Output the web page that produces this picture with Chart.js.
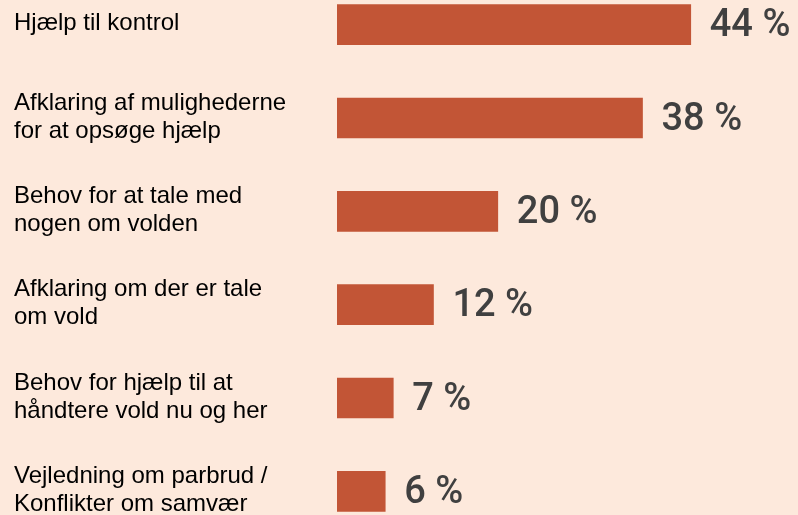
<!DOCTYPE html>
<html>
<head>
<meta charset="utf-8">
<script src="https://cdn.jsdelivr.net/npm/chart.js@4/dist/chart.umd.min.js"></script>
<style>
  html, body { margin: 0; padding: 0; background: #fde9dc; overflow: hidden; }
  #wrap { position: absolute; left: 0; top: -22px; width: 798px; height: 560px; }
</style>
</head>
<body>
<div id="wrap"><canvas id="barChart"></canvas></div>
<script>
var categories = [
  ["Hjælp til kontrol"],
  ["Afklaring af mulighederne", "for at opsøge hjælp"],
  ["Behov for at tale med", "nogen om volden"],
  ["Afklaring om der er tale", "om vold"],
  ["Behov for hjælp til at", "håndtere vold nu og her"],
  ["Vejledning om parbrud /", "Konflikter om samvær"]
];
var values = [44, 38, 20, 12, 7, 6];

// category text on the left and value text after each bar
var barLabels = {
  id: 'barLabels',
  afterDatasetsDraw: function(chart) {
    var ctx = chart.ctx;
    var meta = chart.getDatasetMeta(0);
    ctx.save();
    ctx.textBaseline = 'middle';
    ctx.textAlign = 'left';
    meta.data.forEach(function(bar, i) {
      var lines = categories[i];
      ctx.font = '24px "Liberation Sans"';
      ctx.fillStyle = '#000000';
      var y0 = bar.y - 1 - (lines.length - 1) * 28 / 2;
      lines.forEach(function(line, j) {
        ctx.fillText(line, 14, y0 + j * 28);
      });
      ctx.font = '500 38px Roboto';
      ctx.fillStyle = '#404040';
      ctx.fillText(values[i] + ' %', bar.x + 19, bar.y + 2);
    });
    ctx.restore();
  }
};

var ctx = document.getElementById('barChart').getContext('2d');
var myChart = new Chart(ctx, {
  type: 'bar',
  data: {
    labels: categories.map(function(c) { return c.join(' '); }),
    datasets: [{
      data: values,
      backgroundColor: '#c25536',
      barThickness: 40
    }]
  },
  options: {
    indexAxis: 'y',
    responsive: true,
    maintainAspectRatio: false,
    animation: false,
    layout: { padding: { left: 14, right: 59, top: 0, bottom: 0 } },
    plugins: {
      legend: { display: false },
      tooltip: { enabled: false }
    },
    scales: {
      x: {
        min: 0,
        max: 50,
        display: false
      },
      y: {
        grid: { display: false },
        border: { display: false },
        ticks: { display: false },
        afterFit: function(scale) { scale.width = 323; }
      }
    }
  },
  plugins: [barLabels]
});
</script>
</body>
</html>
